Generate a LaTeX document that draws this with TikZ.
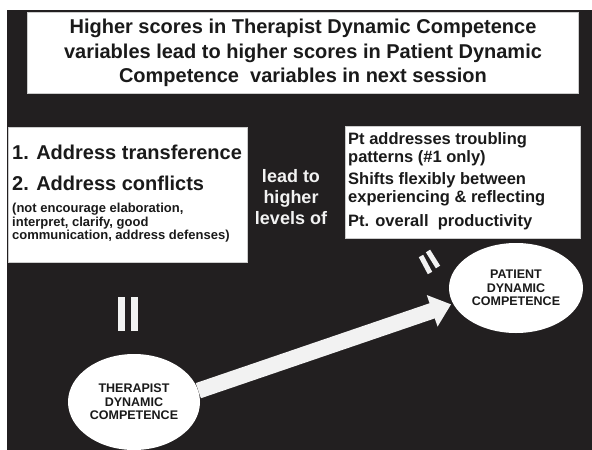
\documentclass[tikz,border=0pt]{standalone}
\usepackage{fontspec}
\setmainfont{Liberation Sans}
\usetikzlibrary{shapes.geometric,arrows.meta}

\definecolor{slate}{HTML}{221F20}
\definecolor{ink}{HTML}{1A1A1A}
\definecolor{chalk}{HTML}{F2F2F2}

\begin{document}
\begin{tikzpicture}
[
	x	= 1pt,	% one unit is one pixel of the slide
	y	= -1pt,	% y runs downwards, as on the slide
	panel/.style	= {shape = rectangle, draw = gray!40, fill = white, inner sep = 0pt},
	bubble/.style	= {shape = ellipse, fill = white, inner sep = 0pt, align = center, text = ink, font = \fontsize{12.5}{13.5}\selectfont\bfseries},
	bigline/.style	= {anchor = west, inner sep = 0pt, text = ink, font = \fontsize{20}{25}\selectfont\bfseries},
	midline/.style	= {anchor = west, inner sep = 0pt, align = left, text = ink, font = \fontsize{16.5}{18}\selectfont\bfseries},
	smallline/.style	= {anchor = west, inner sep = 0pt, align = left, text = ink, font = \fontsize{13}{13.5}\selectfont\bfseries},
	bar/.style	= {line width = 7pt, chalk},
]

{
	% background of the slide
	\fill [white] (0,0) rectangle (592,450);
	\fill [slate] (7,10) rectangle (592,450);

	% nodes declaration
	\node (nTitle) [panel, minimum width = 551pt, minimum height = 81pt, align = center, text = ink, font = \fontsize{20}{24.5}\selectfont\bfseries] at (303,53)
		{Higher scores in Therapist Dynamic Competence\\variables lead to higher scores in Patient Dynamic\\Competence\ \ variables in next session};

	\node (nTherBox) [panel, minimum width = 239pt, minimum height = 135pt] at (127.5,194.5) {};
	\node (nTransf) [bigline] at (12,152) {1. Address transference};
	\node (nConfl) [bigline] at (12,183) {2. Address conflicts};
	\node (nDetails) [smallline] at (12,223) {(not encourage elaboration,\\interpret, clarify, good\\communication, address defenses)};

	\node (nPatBox) [panel, minimum width = 235pt, minimum height = 112pt] at (462.5,182) {};
	\node (nTroubl) [midline] at (348,149) {Pt addresses troubling\\patterns (\#1 only)};
	\node (nShifts) [midline] at (348,189) {Shifts flexibly between\\experiencing \& reflecting};
	\node (nProd) [midline] at (348,222) {Pt. overall\ \ productivity};

	\node (nLead) [inner sep = 0pt, align = center, text = chalk, font = \fontsize{18}{21}\selectfont\bfseries] at (291,197) {lead to\\higher\\levels of};

	\node (nTher) [bubble, minimum width = 132pt, minimum height = 96pt] at (134,402) {THERAPIST\\DYNAMIC\\COMPETENCE};
	\node (nPat) [bubble, minimum width = 134pt, minimum height = 90pt] at (516,288) {PATIENT\\DYNAMIC\\COMPETENCE};

	% equal signs
	\draw [bar, line cap = butt] (121.5,297) -- (121.5,331);
	\draw [bar, line cap = butt] (134.5,297) -- (134.5,331);
	\draw [bar, line width = 5pt] (421,256) -- (430,273);
	\draw [bar, line width = 5pt] (428,251) -- (438,267);

	% edges declartion
	\draw [line width = 16pt, chalk, shorten > = 2pt, -{Triangle[width = 32pt, length = 20pt]}] (nTher.10) -- (nPat.194);
}

\end{tikzpicture}
\end{document}
